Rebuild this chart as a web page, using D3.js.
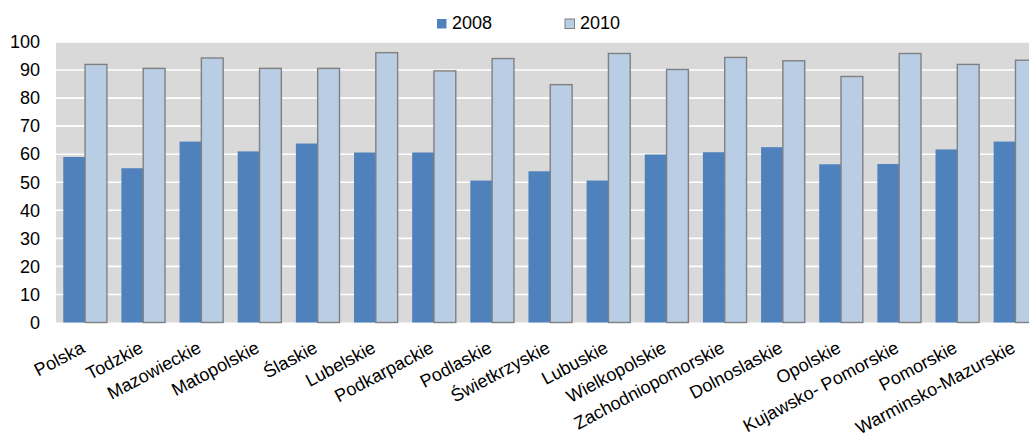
<!DOCTYPE html>
<html>
<head>
<meta charset="utf-8">
<script src="https://cdn.jsdelivr.net/npm/d3@7"></script>
<style>
  html, body { margin: 0; padding: 0; background: #fff; overflow: hidden; }
  svg { display: block; font-family: "Liberation Sans", Arial, sans-serif; }
</style>
</head>
<body>
<svg id="chart" width="1029" height="439"></svg>
<script>
// Regions (voivodeships) and the national total
const categories = [
  "Polska", "Todzkie", "Mazowieckie", "Matopolskie", "Ślaskie", "Lubelskie",
  "Podkarpackie", "Podlaskie", "Świetkrzyskie", "Lubuskie", "Wielkopolskie",
  "Zachodniopomorskie", "Dolnoslaskie", "Opolskie", "Kujawsko- Pomorskie",
  "Pomorskie", "Warminsko-Mazurskie"
];
const seriesNames = ["2008", "2010"];
const values2008 = [59, 55, 64.5, 61, 63.8, 60.6, 60.6, 50.6, 53.9, 50.6, 59.9, 60.7, 62.5, 56.4, 56.5, 61.7, 64.5];
const values2010 = [92, 90.6, 94.3, 90.6, 90.6, 96.2, 89.7, 94.1, 84.8, 95.9, 90.2, 94.5, 93.3, 87.7, 95.9, 92, 93.5];
const yTicks = [0, 10, 20, 30, 40, 50, 60, 70, 80, 90, 100];

const colors = { "2008": "#4F81BD", "2010": "#B9CDE5" };

const svg = d3.select("#chart");
const plot = { left: 56, top: 42, bottom: 322.5, step: 58.15 };
const plotRight = plot.left + plot.step * categories.length;

const x = d3.scaleBand()
  .domain(categories)
  .range([plot.left, plotRight])
  .paddingInner(0.25)
  .paddingOuter(0.125);

const xs = d3.scaleBand()
  .domain(seriesNames)
  .range([0, x.bandwidth()]);

const y = d3.scaleLinear().domain([0, 100]).range([plot.bottom, plot.top]);

// Plot area background
svg.append("rect")
  .attr("x", plot.left).attr("y", y(100))
  .attr("width", plotRight - plot.left).attr("height", y(0) - y(100))
  .attr("fill", "#D9D9D9");

// Horizontal gridlines
svg.append("g")
  .selectAll("line")
  .data(yTicks.filter(d => d > 0))
  .join("line")
  .attr("x1", plot.left).attr("x2", plotRight)
  .attr("y1", d => y(d)).attr("y2", d => y(d))
  .attr("stroke", "#fff").attr("stroke-width", 1.6);

// Y axis labels
const yAxis = d3.axisLeft(y).tickValues(yTicks).tickSize(0).tickPadding(16);
svg.append("g")
  .attr("transform", `translate(${plot.left},0)`)
  .call(yAxis)
  .call(g => g.select(".domain").remove())
  .call(g => g.selectAll("text")
    .attr("font-size", 18)
    .attr("font-family", "Liberation Sans, Arial, sans-serif")
    .attr("fill", "#000"));

// Bars
const rows = categories.map((c, i) => ({ c, vals: [values2008[i], values2010[i]] }));
const groups = svg.append("g").selectAll("g")
  .data(rows)
  .join("g")
  .attr("transform", d => `translate(${x(d.c)},0)`);

groups.selectAll("rect")
  .data(d => d.vals.map((v, k) => ({ s: seriesNames[k], v })))
  .join("rect")
  .attr("x", d => xs(d.s))
  .attr("y", d => y(d.v))
  .attr("width", xs.bandwidth())
  .attr("height", d => y(0) - y(d.v))
  .attr("fill", d => colors[d.s])
  .attr("stroke", d => d.s === "2010" ? "#808080" : "none")
  .attr("stroke-width", 1.4);

// Category labels, slanted; each ends under its category centre
svg.append("g").selectAll("text")
  .data(categories)
  .join("text")
  .attr("transform", d => `translate(${x(d) + x.bandwidth() / 2 + 1},351.5) rotate(-28)`)
  .attr("text-anchor", "end")
  .attr("font-size", 18)
  .attr("fill", "#000")
  .text(d => d);

// Legend
const legendItems = [{ s: "2008", x: 437 }, { s: "2010", x: 565 }];
const lg = svg.append("g").selectAll("g.leg")
  .data(legendItems)
  .join("g")
  .attr("class", "leg")
  .attr("transform", d => `translate(${d.x},19)`);
lg.append("rect")
  .attr("width", 9.5).attr("height", 9.5)
  .attr("fill", d => colors[d.s])
  .attr("stroke", d => d.s === "2010" ? "#808080" : "none")
  .attr("stroke-width", 1);
lg.append("text")
  .attr("x", 15).attr("y", 10.3)
  .attr("font-size", 18)
  .attr("fill", "#000")
  .text(d => d.s);
</script>
</body>
</html>
